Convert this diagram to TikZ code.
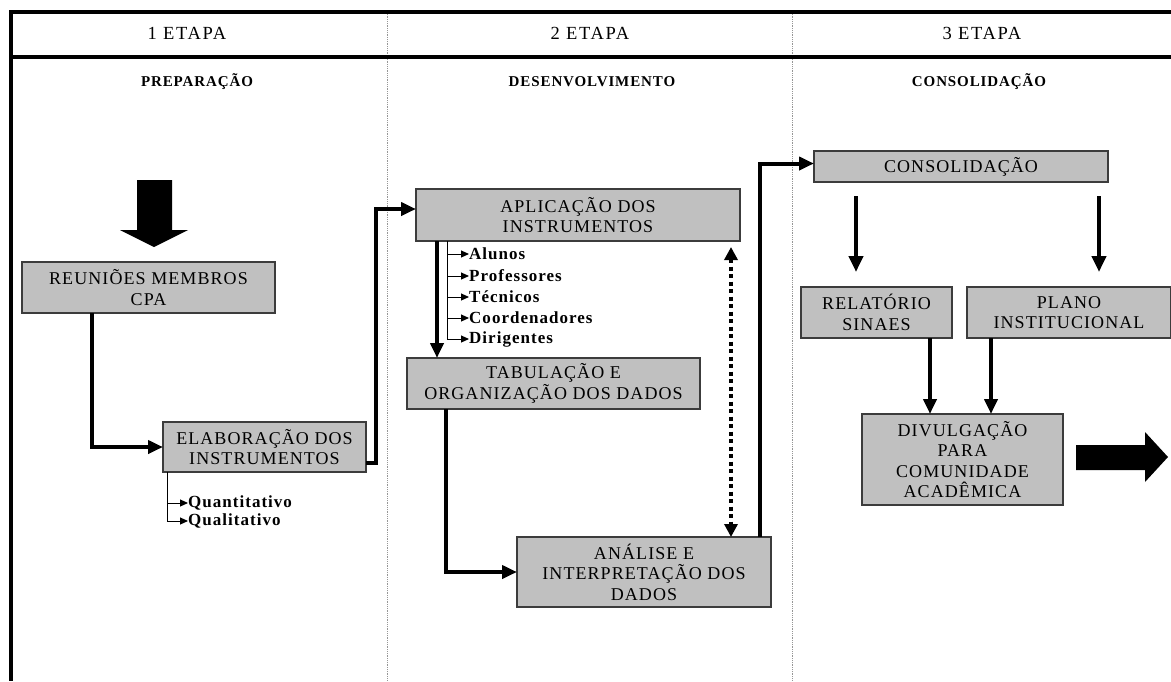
\documentclass[tikz,border=0pt]{standalone}
\usepackage{fontspec}
\setmainfont{Liberation Serif}
\newfontfamily\caixafont[LetterSpace=6]{Liberation Serif}
\newfontfamily\titulofont[LetterSpace=9]{Liberation Serif}
\usepackage{xcolor}
\definecolor{Cinza}{RGB}{192,192,192}
\definecolor{Borda}{RGB}{60,60,60}
\definecolor{Black}{RGB}{0,0,0}
\definecolor{Pontos}{RGB}{150,150,150}
\usetikzlibrary{arrows.meta}

\begin{document}
\begin{tikzpicture}[x=1pt, y=-1pt,
		caixa/.style={fill=Cinza, draw=Borda, line width=1.2pt, outer sep=0pt, align=center, inner sep=0pt, font=\caixafont\fontsize{18}{20.5}\selectfont},
		titulo/.style={font=\titulofont\fontsize{18.5}{20}\selectfont},
		subtitulo/.style={font=\caixafont\bfseries\fontsize{15}{18}\selectfont},
		item/.style={anchor=west, inner sep=0pt, font=\caixafont\bfseries\fontsize{17}{18}\selectfont},
		conector/.style={line width=4pt, -{Triangle[length=15pt,width=13pt]}},
		seta/.style={line width=4pt, -{Triangle[length=16pt,width=14pt]}},
		ramo/.style={line width=1pt, -{Triangle[length=8pt,width=7pt]}},
		pontilhado/.style={line width=4pt, dash pattern=on 4pt off 3.5pt, {Triangle[length=13pt,width=13pt]}-{Triangle[length=13pt,width=13pt]}}]
		
		\useasboundingbox (0,0) rectangle (1171,681);
		
		% Frame
		\draw[Pontos, line width=0.8pt, densely dotted] (387,12) -- (387,681);
		\draw[Pontos, line width=0.8pt, densely dotted] (792,12) -- (792,681);
		\draw[Black, line width=4pt] (1171,12) -- (11,12) -- (11,681);
		\draw[Black, line width=4pt] (11,57) -- (1171,57);
		
		% Headers
		\node[titulo] (etapa1) at (187,33) {1 ETAPA};
		\node[titulo] (etapa2) at (590,33) {2 ETAPA};
		\node[titulo] (etapa3) at (982,33) {3 ETAPA};
		\node[subtitulo] (prep) at (197,82) {PREPARAÇÃO};
		\node[subtitulo] (desenv) at (592,82) {DESENVOLVIMENTO};
		\node[subtitulo] (consolid) at (979,82) {CONSOLIDAÇÃO};
		
		% Boxes
		\node[caixa, minimum width=253pt, minimum height=51pt] (reunioes) at (148.5,287.5) {REUNIÕES MEMBROS\\CPA};
		\node[caixa, minimum width=203pt, minimum height=50pt] (elab) at (264.5,447) {ELABORAÇÃO DOS\\INSTRUMENTOS};
		\node[caixa, minimum width=324pt, minimum height=52pt] (aplic) at (578,215) {APLICAÇÃO DOS\\INSTRUMENTOS};
		\node[caixa, minimum width=293pt, minimum height=51pt] (tab) at (553.5,383.5) {TABULAÇÃO E\\ORGANIZAÇÃO DOS DADOS};
		\node[caixa, minimum width=254pt, minimum height=70pt] (analise) at (644,572) {ANÁLISE E\\INTERPRETAÇÃO DOS\\DADOS};
		\node[caixa, minimum width=294pt, minimum height=31pt] (consol) at (961,166.5) {CONSOLIDAÇÃO};
		\node[caixa, minimum width=151pt, minimum height=51pt] (relat) at (876.5,312.5) {RELATÓRIO\\SINAES};
		\node[caixa, minimum width=204pt, minimum height=51pt] (plano) at (1069,312.5) {PLANO\\INSTITUCIONAL};
		\node[caixa, minimum width=201pt, minimum height=91pt] (divulg) at (962.5,459.5) {DIVULGAÇÃO\\PARA\\COMUNIDADE\\ACADÊMICA};
		
		% Lists
		\node[item] (quant) at (188,503) {Quantitativo};
		\node[item] (qual) at (188,521) {Qualitativo};
		\node[item] (alunos) at (469,254) {Alunos};
		\node[item] (prof) at (469,276) {Professores};
		\node[item] (tecn) at (469,297) {Técnicos};
		\node[item] (coord) at (469,318) {Coordenadores};
		\node[item] (dirig) at (469,339) {Dirigentes};
		
		\draw[ramo] ([xshift=4pt]elab.south west) |- (quant.west);
		\draw[ramo] ([xshift=4pt]elab.south west) |- (qual.west);
		\foreach \i in {alunos, prof, tecn, coord, dirig}
			\draw[ramo] ([xshift=31pt]aplic.south west) |- (\i.west);
		
		% Lines
		\draw[conector] ([xshift=70pt]reunioes.south west) |- (elab.west);
		\draw[conector] ([yshift=9pt]elab.south east) -- ++(10pt,0) |- ([yshift=6pt]aplic.west);
		\draw[conector] ([xshift=21pt]aplic.south west) -- ([xshift=30pt]tab.north west);
		\draw[conector] ([xshift=39pt]tab.south west) |- (analise.west);
		\draw[pontilhado, shorten <=6pt] ([xshift=-9pt]aplic.south east) -- ([xshift=-40pt]analise.north east);
		\draw[conector] ([xshift=-11pt]analise.north east) |- ([yshift=3pt]consol.west);
		\draw[seta] ([xshift=42pt,yshift=-14pt]consol.south west) -- ([xshift=55pt,yshift=15pt]relat.north west);
		\draw[seta] ([xshift=-9pt,yshift=-14pt]consol.south east) -- ([xshift=132pt,yshift=15pt]plano.north west);
		\draw[conector] ([xshift=-22pt]relat.south east) -- ([xshift=68pt]divulg.north west);
		\draw[conector] ([xshift=24pt]plano.south west) -- ([xshift=129pt]divulg.north west);
		
		% Block arrows
		\fill[Black] (137,180) -- (172,180) -- (172,230) -- (188,230) -- (154,247) -- (120,230) -- (137,230) -- cycle;
		\fill[Black] (1076,445) -- (1145,445) -- (1145,432) -- (1168,457) -- (1145,482) -- (1145,470) -- (1076,470) -- cycle;
		
\end{tikzpicture}
\end{document}
